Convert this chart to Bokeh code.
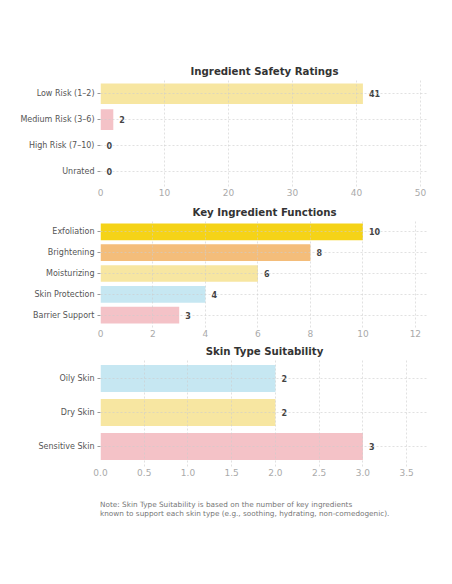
from bokeh.plotting import figure
from bokeh.models import FactorRange, Range1d, ColumnDataSource, Div, FixedTicker
from bokeh.layouts import column
from bokeh.core.properties import value
from bokeh.embed import file_html
from bokeh.resources import INLINE

safety_cats = ["Low Risk (1–2)", "Medium Risk (3–6)", "High Risk (7–10)", "Unrated"]
safety_vals = [41, 2, 0, 0]
safety_colors = ["#F7E6A1", "#F4C2C7", "#F4C2C7", "#F4C2C7"]

func_cats = ["Exfoliation", "Brightening", "Moisturizing", "Skin Protection", "Barrier Support"]
func_vals = [10, 8, 6, 4, 3]
func_colors = ["#F5D317", "#F4BD7A", "#F7E6A1", "#C6E7F2", "#F4C2C7"]

skin_cats = ["Oily Skin", "Dry Skin", "Sensitive Skin"]
skin_vals = [2, 2, 3]
skin_colors = ["#C6E7F2", "#F7E6A1", "#F4C2C7"]

note_text = ("Note: Skin Type Suitability is based on the number of key ingredients<br>"
             "known to support each skin type (e.g., soothing, hydrating, non-comedogenic).")

FONT = "DejaVu Sans"


def make_panel(title, cats, vals, colors, xmax, ticks, tick_fmt, height, top, bottom):
    yr = FactorRange(*list(reversed(cats)), range_padding=0.09, range_padding_units="absolute")
    p = figure(width=444, height=height, y_range=yr, x_range=Range1d(0, xmax),
               output_backend="svg", toolbar_location=None,
               min_border_left=100, min_border_right=16,
               min_border_top=top, min_border_bottom=bottom)
    p.title.text = title
    p.title.align = "center"
    p.title.text_font = FONT
    p.title.text_font_size = "10.2px"
    p.title.text_font_style = "bold"
    p.title.text_color = "#333333"
    p.title.standoff = 4
    p.outline_line_color = None
    p.background_fill_color = "white"
    p.border_fill_color = "white"

    src = ColumnDataSource(dict(cat=cats, val=vals, color=colors,
                                lab=[str(v) for v in vals]))
    p.hbar(y="cat", right="val", left=0, height=0.8, color="color", line_color=None, source=src)
    p.text(x="val", y="cat", text="lab", source=src, x_offset=6,
           text_baseline="middle", text_align="left",
           text_font=value(FONT), text_font_size="8px", text_font_style="bold",
           text_color="#444444")

    for g in (p.xgrid, p.ygrid):
        g.grid_line_color = "#cccccc"
        g.grid_line_dash = "2 2"
        g.grid_line_width = 0.6
        g.level = "overlay"

    p.xaxis.ticker = FixedTicker(ticks=ticks)
    p.xaxis.major_label_overrides = {t: tick_fmt(t) for t in ticks}
    p.xaxis.axis_line_color = None
    p.xaxis.major_tick_line_color = None
    p.xaxis.major_tick_out = 0
    p.xaxis.major_tick_in = 0
    p.xaxis.minor_tick_line_color = None
    p.xaxis.minor_tick_out = 0
    p.xaxis.major_label_text_color = "#aaaaaa"
    p.xaxis.major_label_text_font = FONT
    p.xaxis.major_label_text_font_size = "9px"
    p.xaxis.major_label_standoff = 2

    p.yaxis.axis_line_color = None
    p.yaxis.major_tick_line_color = "#999999"
    p.yaxis.major_tick_out = 3
    p.yaxis.major_tick_in = 0
    p.yaxis.major_label_text_color = "#555555"
    p.yaxis.major_label_text_font = FONT
    p.yaxis.major_label_text_font_size = "8px"
    p.yaxis.major_label_standoff = 3
    return p


p1 = make_panel("Ingredient Safety Ratings", safety_cats, safety_vals, safety_colors,
                51.25, [0, 10, 20, 30, 40, 50], lambda t: str(int(t)), 202, 78, 16)
p2 = make_panel("Key Ingredient Functions", func_cats, func_vals, func_colors,
                12.5, [0, 2, 4, 6, 8, 10, 12], lambda t: str(int(t)), 138, 16, 13)
p3 = make_panel("Skin Type Suitability", skin_cats, skin_vals, skin_colors,
                3.75, [0, 0.5, 1, 1.5, 2, 2.5, 3, 3.5], lambda t: f"{t:.1f}", 148, 18, 22)

note = Div(text=note_text, width=444,
           styles={"margin-left": "100px", "padding-top": "7px", "font-family": FONT,
                   "font-size": "7.3px", "color": "#777777", "line-height": "9px"})

layout = column(p1, p2, p3, note, spacing=0)
open("out.html", "w").write(file_html(layout, INLINE))
